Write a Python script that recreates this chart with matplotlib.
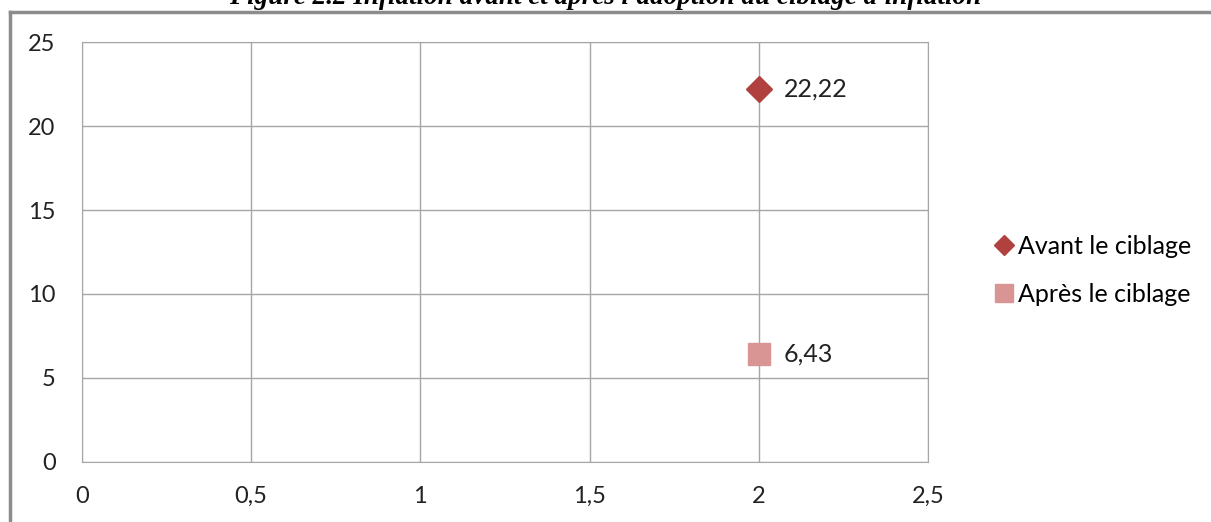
import matplotlib
matplotlib.use("Agg")
import matplotlib.pyplot as plt
from matplotlib.ticker import FuncFormatter, MultipleLocator
from matplotlib.lines import Line2D

series = ["Avant le ciblage", "Après le ciblage"]
x_vals = [2, 2]
y_vals = [22.22, 6.43]
markers = ["D", "s"]
colors = ["#B0413E", "#D99594"]
title = "Figure 2.2 Inflation avant et après l'adoption du ciblage d'inflation"

plt.rcParams['font.family'] = ['Lato', 'DejaVu Sans']

fig = plt.figure(figsize=(12.11, 5.22), dpi=100)
ax = fig.add_axes([0.0677, 0.115, 0.6986, 0.8045])

sizes = [13, 16.5]
for name, x, y, m, c, s in zip(series, x_vals, y_vals, markers, colors, sizes):
    ax.plot([x], [y], linestyle="none", marker=m, color=c, markersize=s,
            markeredgecolor=c, label=name, zorder=3)
    ax.annotate(f"{y:.2f}".replace(".", ","), (x, y), xytext=(18, 0),
                textcoords="offset points", va="center", ha="left",
                fontsize=18, color="#222222")

ax.set_xlim(0, 2.5)
ax.set_ylim(0, 25)
ax.xaxis.set_major_locator(MultipleLocator(0.5))
ax.yaxis.set_major_locator(MultipleLocator(5))
fmt = FuncFormatter(lambda v, p: f"{v:g}".replace(".", ","))
ax.xaxis.set_major_formatter(fmt)
ax.yaxis.set_major_formatter(fmt)
ax.grid(True, color="#A6A6A6", linewidth=1)
ax.set_axisbelow(True)
for sp in ax.spines.values():
    sp.set_color("#A6A6A6")
ax.tick_params(length=0, labelsize=17, colors="#222222")
ax.tick_params(axis="x", pad=17)
ax.tick_params(axis="y", pad=19)

ax.legend(loc="center left", bbox_to_anchor=(1.05, 0.457), frameon=False,
          fontsize=18, handletextpad=0.1, labelspacing=1.0, handlelength=0.9,
          markerscale=0.75)

fig.text(0.5, 0.992, title, ha="center", va="baseline", fontsize=19.5,
         fontweight="bold", fontstyle="italic", family="Liberation Serif")

fig.add_artist(Line2D([10 / 1211, 10 / 1211], [0, 1 - 12 / 522],
                      transform=fig.transFigure, color="#8C8C8C", lw=2.5))
fig.add_artist(Line2D([10 / 1211, 1], [1 - 12 / 522, 1 - 12 / 522],
                      transform=fig.transFigure, color="#8C8C8C", lw=2.5))

fig.savefig("out.png", dpi=100)
